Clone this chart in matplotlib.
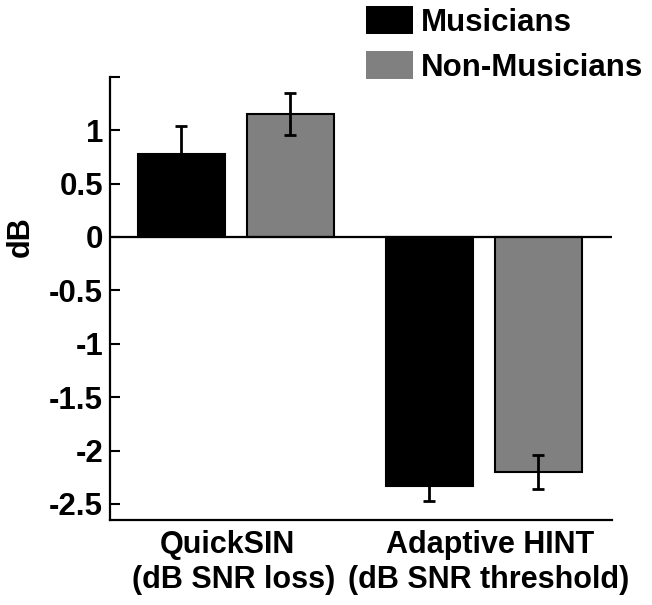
import matplotlib
matplotlib.use("Agg")
import matplotlib.pyplot as plt
from matplotlib.patches import Patch
import numpy as np

plt.rcParams['font.family'] = ['Liberation Sans', 'DejaVu Sans']
plt.rcParams['font.weight'] = 'bold'

categories_line1 = ["QuickSIN", "Adaptive HINT"]
categories_line2 = ["(dB SNR loss)", "(dB SNR threshold)"]
series_names = ["Musicians", "Non-Musicians"]
musicians = [0.78, -2.33]
musicians_err = [0.26, 0.14]
non_musicians = [1.15, -2.20]
non_musicians_err = [0.20, 0.16]
colors = ["#000000", "#808080"]
yticks = [-2.5, -2, -1.5, -1, -0.5, 0, 0.5, 1, 1.5]
yticklabels = ["-2.5", "-2", "-1.5", "-1", "-0.5", "0", "0.5", "1", ""]

fig = plt.figure(figsize=(6.52, 6.05), dpi=100)
ax = fig.add_axes([110/652, 1 - 520/605, (612-110)/652, (520-76.7)/605])

x = np.arange(1, len(categories_line1) + 1)
w = 0.35
off = 0.22
for vals, errs, c, sgn in [(musicians, musicians_err, colors[0], -1),
                           (non_musicians, non_musicians_err, colors[1], 1)]:
    ax.bar(x + sgn * off, vals, width=w, color=c, edgecolor='black', linewidth=1.5, zorder=2)
    ax.errorbar(x + sgn * off, vals, yerr=errs, fmt='none', ecolor='black',
                elinewidth=2, capsize=4.5, capthick=2, zorder=3)

ax.axhline(0, color='black', linewidth=1.6, zorder=4)
ax.set_xlim(0.493, 2.517)
ax.set_ylim(-2.65, 1.5)
ax.set_yticks(yticks)
ax.set_yticklabels(yticklabels)
ax.set_xticks([])
ax.tick_params(axis='y', direction='in', length=7, width=1.5, labelsize=22.5, pad=5)
for lab in ax.get_yticklabels():
    lab.set_fontweight('bold')
ax.spines['top'].set_visible(False)
ax.spines['right'].set_visible(False)
ax.spines['left'].set_linewidth(1.6)
ax.spines['bottom'].set_linewidth(1.6)

# category labels (two lines, each positioned as in the reference)
trans = ax.get_xaxis_transform()
line1_dx = [-0.033, 0.025]
line2_dx = [-0.007, 0.019]
for i in range(len(x)):
    ax.text(x[i] + line1_dx[i], -0.0744, categories_line1[i], transform=trans,
            ha='center', va='baseline', fontsize=22, fontweight='bold')
    ax.text(x[i] + line2_dx[i], -0.153, categories_line2[i], transform=trans,
            ha='center', va='baseline', fontsize=22, fontweight='bold')

ax.set_ylabel("dB", fontsize=22, fontweight='bold')
ax.yaxis.set_label_coords(-0.147, (0 + 2.65) / 4.15)

handles = [Patch(facecolor=colors[0], edgecolor='none'), Patch(facecolor=colors[1], edgecolor='none')]
fig.legend(handles, series_names, loc='upper left', bbox_to_anchor=(360/652, 1.0),
           frameon=False, prop={'weight': 'bold', 'size': 22.5},
           handlelength=1.5, handleheight=0.98, handletextpad=0.25, labelspacing=0.43,
           borderaxespad=0.0, borderpad=0.2)

fig.savefig("out.png", dpi=100)
